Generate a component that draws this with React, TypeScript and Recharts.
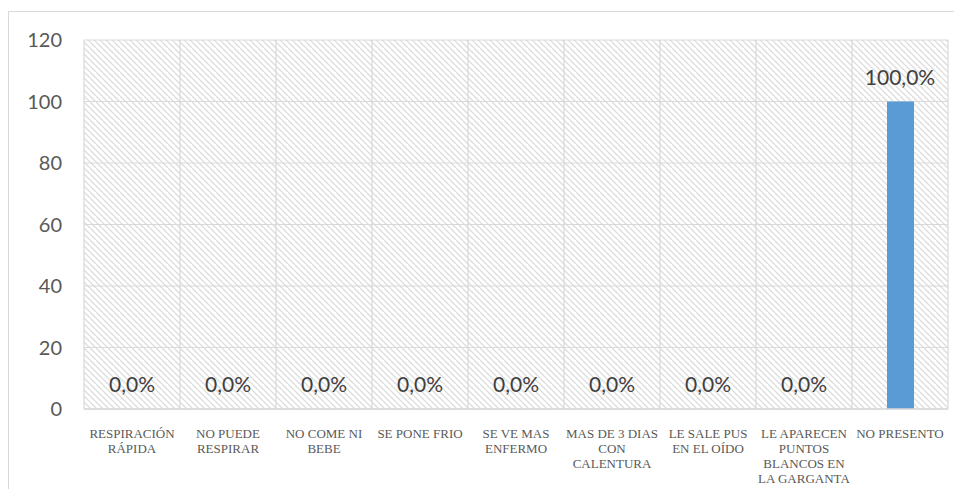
import { ComposedChart, Bar, Line, XAxis, YAxis, CartesianGrid, LabelList } from 'recharts'

// tick labels keep the line breaks they have in the picture
const categories = [
  'RESPIRACIÓN\nRÁPIDA',
  'NO PUEDE\nRESPIRAR',
  'NO COME NI\nBEBE',
  'SE PONE FRIO',
  'SE VE MAS\nENFERMO',
  'MAS DE 3 DIAS\nCON\nCALENTURA',
  'LE SALE PUS\nEN EL OÍDO',
  'LE APARECEN\nPUNTOS\nBLANCOS EN\nLA GARGANTA',
  'NO PRESENTO',
]
const percentages = [0, 0, 0, 0, 0, 0, 0, 0, 100]
const yTicks = [0, 20, 40, 60, 80, 100, 120]

const data = categories.map((name, i) => ({ name, value: percentages[i] }))

const GRID = '#d9d9d9'

function fmt(v: number) {
  return v.toFixed(1).replace('.', ',') + '%'
}

function CategoryTick(props: { x?: number; y?: number; payload?: { value: string } }) {
  const { x = 0, y = 0, payload } = props
  if (!payload) return null
  const lines = String(payload.value).split('\n')
  return (
    <text
      x={x}
      y={y + 21}
      textAnchor="middle"
      fill="#595959"
      fontFamily="'Liberation Serif', 'Times New Roman', serif"
      fontSize={13}
    >
      {lines.map((l, i) => (
        <tspan key={i} x={x} dy={i === 0 ? 0 : 15} fontFamily="'Liberation Serif', serif">
          {l}
        </tspan>
      ))}
    </text>
  )
}

// labels sit on the invisible line so that the zero values get one too
function ValueLabel(props: { x?: number; y?: number; value?: number }) {
  const { x = 0, y = 0, value = 0 } = props
  return (
    <text
      x={Number(x)}
      y={Number(y) - 17}
      textAnchor="middle"
      fill="#404040"
      fontFamily="Lato, sans-serif"
      fontSize={21}
    >
      {fmt(Number(value))}
    </text>
  )
}

export default function App() {
  return (
    <div style={{ position: 'absolute', left: 0, top: 0, width: 963, height: 489, background: '#fff' }}>
      <div
        style={{
          position: 'absolute',
          left: 8,
          top: 11,
          width: 945,
          height: 478,
          borderTop: `1px solid ${GRID}`,
          borderLeft: `1px solid ${GRID}`,
        }}
      />
      <div style={{ position: 'absolute', left: 0, top: 0 }}>
        <ComposedChart
          width={963}
          height={489}
          data={data}
          margin={{ top: 40, right: 15, bottom: 0, left: 0 }}
        >
          <defs>
            <pattern id="hatch" patternUnits="userSpaceOnUse" width="6" height="6">
              <path d="M-1,-1 L7,7 M-4,2 L2,8 M4,-4 L10,2" stroke="#dcdcdc" strokeWidth={1.3} />
            </pattern>
          </defs>
          <CartesianGrid
            stroke={GRID}
            strokeWidth={1.2}
            fill="url(#hatch)"
            fillOpacity={1}
            verticalCoordinatesGenerator={({ offset }: any) => {
              const step = offset.width / categories.length
              return categories.map((_, i) => offset.left + step * i).concat(offset.left + offset.width)
            }}
          />
          <XAxis
            dataKey="name"
            height={80}
            interval={0}
            tickLine={false}
            axisLine={{ stroke: GRID, strokeWidth: 1.5 }}
            tick={<CategoryTick />}
          />
          <YAxis
            width={84}
            domain={[0, 120]}
            ticks={yTicks}
            axisLine={false}
            tickLine={false}
            tickSize={0}
            tickMargin={22}
            tick={{ fill: '#595959', fontSize: 20, fontFamily: 'Lato, sans-serif' }}
          />
          <Bar dataKey="value" fill="#5b9bd5" barSize={27} isAnimationActive={false} />
          <Line
            dataKey="value"
            stroke="none"
            dot={false}
            activeDot={false}
            legendType="none"
            isAnimationActive={false}
          >
            <LabelList dataKey="value" content={<ValueLabel />} />
          </Line>
        </ComposedChart>
      </div>
    </div>
  )
}
